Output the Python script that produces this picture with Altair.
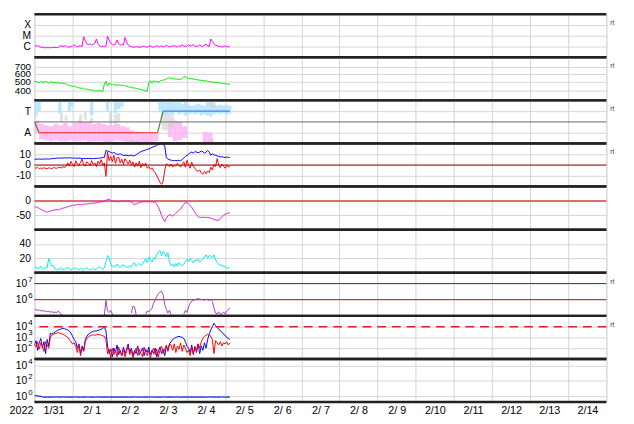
import altair as alt
import pandas as pd

FONT = "Liberation Sans"
W = 584
H = 44
GRID = "#d4d4d4"

day_labels = ["1/31", "2/ 1", "2/ 2", "2/ 3", "2/ 4", "2/ 5", "2/ 6", "2/ 7",
              "2/ 8", "2/ 9", "2/10", "2/11", "2/12", "2/13", "2/14"]

# Panel 1: X-ray flux, in units of C1 (1e-6 W/m2), hourly from 1/31 00h
xray_c = [1.2, 1.1, 1.3, 1.0, 0.9,
          0.8, 0.8, 0.75, 0.8, 0.8, 0.75, 0.8, 0.8, 0.85, 0.8, 0.8,
          1.1, 1.2, 0.9, 1.2, 1.1, 0.9, 0.9,
          1.0, 1.1, 1.5, 1.1, 1.0, 1.1, 1.2, 1.0,
          8.0, 3.5, 1.8, 1.5, 1.8, 1.4, 1.6, 2.0, 5.0, 1.8,
          1.2, 1.0, 1.1, 1.0, 1.1, 9.0, 4.0, 2.0, 1.5, 1.4,
          1.6, 4.0, 1.8, 1.3, 1.5, 1.4, 7.0, 2.5, 1.4, 1.1,
          1.0, 0.9, 0.85, 1.0, 0.9, 0.85, 0.9, 1.0, 1.1, 0.9, 0.9, 1.0, 1.2, 0.9, 0.9,
          1.0, 1.3, 0.9, 1.0, 1.2, 0.9, 1.0, 1.4, 1.0, 0.9, 1.1, 1.0, 1.3, 1.0, 0.9,
          1.2, 1.0, 1.5, 1.0, 1.1, 1.0, 1.5, 1.1, 1.2, 1.6, 1.0, 1.1, 1.0, 1.5, 1.1, 1.0, 1.3, 1.7, 1.1, 1.0,
          5.0, 3.0, 1.8, 1.3, 1.2,
          1.0, 1.1, 0.9, 1.0, 1.2, 0.9, 1.0, 0.9]

# Panel 2: solar wind speed km/s, hourly
speed = [495, 500, 490, 485, 498, 492, 488, 500, 495, 480, 490, 495, 485, 488, 480, 490, 475, 485, 470, 478, 470,
         460, 455, 450, 445, 448, 440,
         435, 430, 425, 428, 420, 415, 420, 410, 412, 405, 408, 400, 398, 402,
         405, 400, 395, 470,
         500, 450, 480,
         470, 465, 460, 462, 455, 458, 460, 452, 455, 450, 448,
         440, 438, 435, 430, 428, 425, 420, 418, 415, 410, 405, 400, 398,
         490, 505, 480, 510, 495, 500, 485, 505,
         510, 515, 520, 530, 540,
         545, 540, 535, 530,
         525, 530, 520, 525, 535,
         555, 560, 545, 535,
         530, 535, 528, 522, 520, 518,
         515, 512, 510, 505, 508, 500, 498, 495, 492, 490,
         488, 485, 480, 482, 478, 475, 470, 472, 468, 465]

# Panel 3: IMF sector (A=1, T=3); spread of phi readings per time bin
pink_h = [0, 3, 6, 9, 12, 15, 18, 21, 24, 27, 30, 33, 36, 39, 42, 45, 48, 51, 54, 57, 60, 63, 66, 69, 72, 75,
          84, 87, 90, 93, 106, 109]
pink_lo = [1.0, 0.4, 0.3, 0.2, 0.3, 0.2, 0.2, 0.3, 0.2, 0.2, 0.3, 0.1, 0.2, 0.2, 0.2, 0.1, 0.2, 0.3, 0.2, 0.1,
           0.1, 0.1, 0.0, 0.1, 0.1, 0.2, 0.6, 0.2, 0.3, 0.5, 0.1, 0.1]
pink_hi = [2.1, 1.8, 1.7, 1.6, 1.8, 1.7, 1.9, 1.6, 1.9, 2.1, 2.0, 2.0, 1.8, 1.9, 1.8, 1.7, 1.7, 1.8, 1.6, 1.5,
           1.2, 1.1, 1.0, 0.9, 1.0, 0.9, 1.9, 2.1, 2.0, 1.6, 1.1, 1.0]
blue_h = [0, 2, 15, 21, 23, 35, 45, 50, 52, 54, 78, 80, 82, 84, 86, 88, 90, 92, 94, 96, 98, 100, 102, 104, 106,
          108, 110, 112, 114, 116, 118, 120, 122]
blue_lo = [2.5, 3.0, 2.8, 3.0, 3.4, 2.6, 3.0, 2.8, 3.2, 3.4, 3.0, 2.7, 2.6, 2.8, 2.6, 2.9, 2.7, 2.8, 2.6, 2.7,
           2.8, 2.7, 2.8, 2.6, 2.7, 2.6, 2.5, 2.7, 2.8, 2.7, 2.8, 2.7, 2.8]
blue_hi = [3.9, 3.9, 3.9, 3.9, 3.9, 3.9, 3.9, 3.9, 3.8, 3.9, 3.9, 3.9, 3.8, 3.9, 3.9, 3.8, 3.9, 3.7, 3.9, 3.6,
           3.5, 3.6, 3.7, 3.6, 3.5, 3.9, 3.8, 3.6, 3.5, 3.6, 3.5, 3.6, 3.5]
grey_h = [16, 19, 28, 31, 35, 44, 47, 50, 52, 60, 62, 64, 80, 82, 84, 86, 110, 112, 111]
grey_lo = [2.0, 2.1, 1.8, 2.2, 1.9, 0.0, 1.5, 1.6, 2.0, 0.0, 0.0, 0.0, 1.3, 1.2, 1.5, 1.4, 3.4, 3.3, 0.0]
grey_hi = [2.8, 2.6, 2.7, 2.9, 2.4, 0.3, 2.9, 2.7, 2.8, 0.4, 0.3, 0.4, 2.9, 2.6, 2.8, 2.5, 3.9, 3.9, 0.5]
sector_h = [0, 3, 3, 77.5, 77.5, 81, 81, 123]
sector_v = [2.0, 1.0, 1.0, 1.0, 1.0, 3.0, 3.0, 3.0]
sector_seg = ["g1", "g1", "away", "away", "g2", "g2", "toward", "toward"]

# Panel 4: Bt and Bz (nT), hourly
bt = [5.5, 5.4, 5.6, 5.5, 5.3, 5.6, 5.5, 5.7, 5.6, 5.5, 5.8, 5.9, 6.0, 6.2, 6.4, 6.5, 6.3, 6.6, 6.5, 6.7, 6.6,
      6.5, 6.8, 6.6, 6.4, 6.6, 6.3, 6.2, 6.5, 6.3, 6.0, 6.2, 5.9, 6.1, 6.0, 6.2, 5.8, 6.1, 6.0, 6.3, 6.2, 6.4, 6.8,
      7.0, 7.2,
      13.5, 13.0, 12.5,
      11.8, 11.0, 12.0, 10.5, 10.0, 9.8, 10.5, 9.5, 9.0, 8.8, 9.2,
      8.6, 8.8, 9.0, 8.5, 8.7, 9.5,
      10.5, 11.5, 12.5, 13.0, 13.5, 14.0, 14.5, 15.0, 15.5, 16.5, 17.0, 17.5, 18.5, 19.0,
      19.5, 20.0, 19.0,
      18.0, 7.0, 5.5,
      5.0, 4.5, 4.2, 4.0, 4.3, 4.1, 4.5, 4.0,
      5.0, 6.5, 8.0, 9.0,
      10.0, 11.5, 12.0, 11.0, 12.5, 12.0, 11.5, 12.0, 13.0, 12.5, 11.0, 12.0, 13.5, 12.0,
      9.0, 10.5, 9.5, 9.0, 8.5, 8.0, 7.5, 7.8, 7.2, 7.0, 7.5, 7.0, 7.2]
bz = [-2.5, -3.0, -2.0, -3.5, -2.8, -3.2, -2.5, -3.0, -3.3, -2.6, -2.9, -3.4, -2.2, -2.8, -3.0, -2.4, -2.0, -2.6,
      -1.5, -2.2, -1.0,
      2.0, -1.0, 3.5, 0.5, -1.5, 4.0, 1.0, -0.5, 2.5, 5.5, 0.0, -1.0, 3.0, 1.5, -0.8, 4.0, 0.5, 2.0, -1.5, 3.5,
      1.0, 5.0, 0.0, 2.0,
      -10.5, 12.0, 4.0,
      8.0, 3.0, 9.0, 1.5, 6.5, 7.5, 2.0, 5.5, 0.5, 6.0, 3.5, 1.0, 4.5, 0.0, 3.0, -2.0, 2.0,
      -1.0, 3.5, -2.5, 1.5, -1.0, 2.0, -3.0, -1.5, -4.0, -2.5, -5.5,
      -7.0, -10.0, -13.0, -16.0, -18.0,
      -15.0, -5.0, 1.0,
      0.5, -1.5, 1.0, -2.0, 0.0, -1.0, 1.5, -0.5, -2.0, 0.5,
      3.0, -2.0, 4.5, 0.0, -3.0, 2.5, -1.0,
      -3.0, -5.0, -6.0, -4.5, -7.5, -8.5, -6.0, -8.0, -5.5, -7.0,
      -2.0, -4.5, 0.5, -1.5, 6.0, -0.5, -2.5, 1.0, -1.0, -3.0, 0.0, -2.0, -1.0]

# Panel 5: Dst (nT), hourly
dst = [-20, -21, -23, -26, -29, -32, -35, -37, -39, -37, -35, -34,
       -33, -31, -30, -31, -29, -27, -25, -24, -22, -20, -18, -17,
       -15, -16, -14, -12, -13, -12, -11, -12, -10, -11, -10, -9,
       -8, -8, -7, -6, -5, -4, -3, -2, 0, 2, 5, 6,
       2, 0, -1, -2, -2, -3, -1, 0, -1, -2, -1, 0,
       -1, -3, -9, -13, -10, -8, -6, -4, -3, -3, -2, -3,
       -2, -3, -3, -4, -5, -12, -22, -35, -50, -62, -72, -60,
       -52, -47, -50, -53, -48, -43, -38, -33, -28, -20, -12, -5,
       -4, -10, -16, -22, -30, -40, -48, -54, -57, -58, -56, -57,
       -58, -57, -58, -60, -62, -64, -66, -68, -67, -60, -55, -50,
       -47, -44, -42, -41]

# Panel 6: cyan series, hourly
cyan = [6, 8, 5, 7, 9, 6, 5, 8, 7,
        20, 14, 9, 10,
        5, 4, 6, 5, 7, 4, 5, 6, 8, 5, 4, 6, 5, 7, 5, 4, 6, 5, 4, 6, 7, 5, 4, 5, 6, 4, 5, 7, 8, 6, 5, 7,
        15, 24, 22, 12, 8,
        10, 8, 12, 9, 7, 10, 11, 8, 9, 7, 10, 8,
        12, 14, 9, 11, 13, 10, 12,
        16, 20, 14, 22, 18, 15, 21, 19,
        26, 29, 31, 24, 30, 27, 22, 28,
        15, 10, 12, 8, 13, 9, 14, 11, 10, 12,
        16, 19, 15, 20, 17, 14, 18, 16, 19, 15, 17, 20,
        22, 25, 20, 24, 23, 21, 25,
        18, 14, 12, 10, 11, 8, 9, 7, 6, 8]

# Panel 7: electron flux, segments with gaps
elec_h = list(range(0, 19)) + list(range(44, 51)) + list(range(61, 65)) + list(range(70, 87)) + list(range(94, 124))
elec_seg = [1] * 19 + [2] * 7 + [3] * 4 + [4] * 17 + [5] * 30
elec_v = [2.5e5, 2.4e5, 2.2e5, 2.3e5, 2.1e5, 2.0e5, 2.1e5, 1.9e5, 1.8e5, 1.9e5, 1.7e5, 1.8e5, 1.6e5, 1.7e5,
          1.6e5, 2.0e5, 1.5e5, 1.2e5, 1.1e5,
          1.1e5, 9.0e5, 2.0e5, 1.6e5, 2.2e5, 1.3e5, 1.1e5,
          1.5e5, 4.0e5, 3.5e5, 1.2e5,
          1.3e5, 2.0e5, 1.8e5, 2.2e5, 3.0e5, 6.0e5, 1.0e6, 1.6e6, 2.4e6, 3.0e6, 3.2e6, 2.0e6, 5.0e5, 2.5e5,
          1.5e5, 2.2e5, 1.2e5,
          1.3e5, 2.2e5, 1.6e5, 3.5e5, 6.0e5, 8.0e5, 9.0e5, 1.0e6, 1.1e6, 1.15e6, 1.1e6, 1.05e6, 1.0e6, 9.0e5,
          1.1e6, 1.0e6, 9.0e5, 1.05e6, 8.0e5, 3.0e5, 1.5e5, 1.3e5, 1.8e5, 1.2e5, 1.4e5, 1.7e5, 1.3e5, 2.0e5,
          2.5e5, 3.0e5]

# Panel 8: proton flux, log10 values, hourly
prot_blue = [2.3, 2.7, 1.8, 2.5, 2.9, 2.0, 2.6, 1.5, 2.8, 2.2,
             3.4,
             3.3, 3.4, 3.5, 3.6, 3.7, 3.75, 3.8, 3.85, 3.8, 3.75,
             3.7, 3.6, 3.4, 3.1, 2.8, 2.6,
             2.0, 2.4, 1.5, 2.2, 1.8,
             2.8, 3.1, 3.3, 3.4, 3.5, 3.55, 3.6, 3.6, 3.65, 3.7, 3.75, 3.85, 3.95,
             3.6,
             2.2, 1.5, 1.9, 1.2, 2.0, 1.6, 2.3, 1.4, 1.8, 1.3, 2.1, 1.5, 1.9, 2.4, 1.6, 2.0, 1.3, 1.8, 1.5, 2.2,
             1.4, 1.7, 2.0, 1.3, 1.9, 1.6, 2.1, 1.4, 1.8, 1.5, 2.0, 1.2, 1.7, 2.1, 1.5, 1.9, 1.3, 2.2, 1.8, 2.4,
             2.6, 2.8, 2.9, 3.0, 3.05, 3.1, 3.05, 3.0, 2.9, 2.6, 2.2,
             2.0, 1.6, 2.3, 1.4, 2.1, 1.7, 2.4, 1.5, 2.2, 1.8, 2.5, 2.0,
             2.8, 3.3, 3.7, 4.0, 4.3, 4.1,
             3.9, 3.8, 3.6, 3.5, 3.3, 3.2, 3.0, 2.9, 2.8]
prot_red = [2.4, 2.1, 2.6, 1.9, 2.5, 2.2, 1.7, 2.6, 2.3, 2.0,
            3.0, 3.2, 3.3, 3.35, 3.4, 3.45, 3.4, 3.35, 3.3, 3.2, 3.1,
            3.0, 2.8, 2.6, 2.4, 2.5, 2.2,
            1.6, 2.3, 1.3, 2.0, 1.7,
            2.6, 2.9, 3.05, 3.15, 3.2, 3.25, 3.2, 3.25, 3.3, 3.25, 3.2, 3.15, 3.1,
            2.8,
            1.5, 1.9, 1.1, 2.0, 1.4, 1.8, 1.2, 2.1, 1.6, 1.3, 1.9, 1.2, 1.7, 2.2, 1.4, 1.8, 1.1, 1.6, 2.0, 1.3,
            1.9, 1.5, 1.2, 2.1, 1.6, 1.3, 1.8, 1.1, 1.7, 2.0, 1.4, 1.9, 1.2, 1.8, 2.2, 1.5, 1.9, 2.3, 1.7, 2.4,
            2.3, 1.8, 2.4, 1.6, 2.2, 1.9, 2.5, 1.7, 2.3, 2.0, 1.6,
            1.8, 1.3, 2.1, 1.5, 2.2, 1.6, 2.4, 2.0, 2.6, 2.9, 3.1, 3.2,
            3.3, 3.2, 3.1, 2.8, 1.5, 2.7,
            2.5, 2.3, 2.6, 2.2, 2.5, 2.4, 2.6, 2.3, 2.5]

# Panel 9: blue series, hourly
p9 = [1.3, 1.25, 1.2, 1.1, 1.0, 0.9, 0.85, 0.9, 0.8, 0.88,
      0.85, 0.9, 0.82, 0.87, 0.9, 0.84, 0.88, 0.8, 0.86, 0.9,
      0.83, 0.87, 0.85, 0.9, 0.8, 0.86, 0.88, 0.82, 0.9, 0.85,
      0.8, 0.87, 0.84, 0.9, 0.86, 0.82, 0.88, 0.85, 0.8, 0.87,
      0.9, 0.84, 0.86, 0.82, 0.88, 0.85, 0.9, 0.8, 0.86, 0.84,
      0.88, 0.82, 0.87, 0.85, 0.9, 0.83, 0.86, 0.8, 0.88, 0.85,
      0.84, 0.87, 0.82, 0.9, 0.86, 0.83, 0.88, 0.85, 0.8, 0.87,
      0.85, 0.9, 0.82, 0.86, 0.88, 0.84, 0.8, 0.87, 0.85, 0.9,
      0.83, 0.86, 0.88, 0.82, 0.85, 0.9, 0.84, 0.87, 0.8, 0.86,
      0.88, 0.83, 0.85, 0.9, 0.82, 0.87, 0.84, 0.86, 0.8, 0.88,
      0.85, 0.9, 0.83, 0.86, 0.82, 0.88, 0.84, 0.87, 0.85, 0.8,
      0.86, 0.9, 0.83, 0.87, 0.85, 0.82, 0.88, 0.84, 0.86, 0.9,
      0.85, 0.83, 0.87, 0.84]

# exponent tick labels of the log panels
exp7_v = [1e6, 1e7]
exp7_t = ["6", "7"]
exp8_v = [1e2, 1e3, 1e4]
exp8_t = ["2", "3", "4"]
exp9_v = [1, 1e2, 1e4]
exp9_t = ["0", "2", "4"]

one = pd.DataFrame({"k": [0]})
TICKS = list(range(0, 361, 24))


def xaxis(bottom):
    if bottom:
        arr = "[" + ",".join("'%s'" % s for s in day_labels) + "]"
        return alt.Axis(values=TICKS, grid=True, gridColor=GRID, ticks=False, domain=False, labels=True,
                        labelExpr=arr + "[datum.value/24] || ''", labelOffset=19.5, labelPadding=3,
                        labelFont=FONT, labelFontSize=11, labelColor="black", labelOverlap=False,
                        labelFlush=False, labelBound=False, title="2022", titleX=-26, titleY=3,
                        titleAlign="left", titleBaseline="top", titleFont=FONT, titleFontSize=11,
                        titleFontWeight="normal", titleColor="black")
    return alt.Axis(values=TICKS, grid=True, gridColor=GRID, ticks=False, domain=False, labels=False, title=None)


def X(bottom=False, field="h"):
    return alt.X(f"{field}:Q", scale=alt.Scale(domain=[0, 360], nice=False, zero=False), axis=xaxis(bottom))


def yaxis(values, expr, pad=4, size=10.5):
    return alt.Axis(values=values, grid=True, gridColor=GRID, ticks=False, domain=False, title=None,
                    labelFont=FONT, labelFontSize=size, labelColor="black", labelPadding=pad,
                    labelExpr=expr, labelOverlap=False, labelBound=False)


def make_y(dom, typ, ax):
    def Y(field):
        return alt.Y(f"{field}:Q", scale=alt.Scale(domain=dom, type=typ, nice=False, zero=False), axis=ax)
    return Y


def frame(rt):
    lay = [
        alt.Chart(one).mark_rule(color="#222", strokeWidth=2.5).encode(
            x=alt.value(0), x2=alt.value(W), y=alt.value(0)),
        alt.Chart(one).mark_rule(color="#222", strokeWidth=2.5).encode(
            x=alt.value(0), x2=alt.value(W), y=alt.value(H)),
    ]
    if rt:
        lay.append(alt.Chart(one).mark_text(text="rt", fontSize=7, color="#444", align="left", font=FONT).encode(
            x=alt.value(W + 4), y=alt.value(9)))
    return lay


def exps(Y, vals, txt):
    df = pd.DataFrame({"v": vals, "t": txt})
    return alt.Chart(df).mark_text(font=FONT, fontSize=8, color="black", align="right", dy=-4).encode(
        x=alt.value(-2), y=Y("v"), text="t:N")


def hourly(vals):
    return pd.DataFrame({"h": list(range(len(vals))), "v": vals})


# ---- Panel 1
d1 = pd.DataFrame({"h": list(range(len(xray_c))), "v": [c * 1e-6 for c in xray_c]})
Y1 = make_y([1e-7, 1e-3], "log", yaxis([1e-6, 1e-5, 1e-4],
                                       "datum.value < 3e-6 ? 'C' : datum.value < 3e-5 ? 'M' : 'X'"))
p1 = alt.layer(
    alt.Chart(d1).mark_line(color="#ff00ff", strokeWidth=1, clip=True).encode(x=X(), y=Y1("v")),
    *frame(True)
).properties(width=W, height=H)

# ---- Panel 2
Y2 = make_y([320, 880], "log", yaxis([400, 500, 600, 700], "'' + datum.value", size=10))
p2 = alt.layer(
    alt.Chart(hourly(speed)).mark_line(color="#00ee00", strokeWidth=1, clip=True).encode(x=X(), y=Y2("v")),
    *frame(True)
).properties(width=W, height=H)

# ---- Panel 3
Y3 = make_y([0, 4], "linear", yaxis([1, 3], "datum.value > 2 ? 'T' : 'A'"))
pink = pd.DataFrame({"h": pink_h, "h2": [h + 3 for h in pink_h], "lo": pink_lo, "hi": pink_hi})
blue = pd.DataFrame({"h": blue_h, "h2": [h + 2 for h in blue_h], "lo": blue_lo, "hi": blue_hi})
grey = pd.DataFrame({"h": grey_h, "h2": [h + 2 for h in grey_h], "lo": grey_lo, "hi": grey_hi})
sect = pd.DataFrame({"h": sector_h, "v": sector_v, "seg": sector_seg})
mid = pd.DataFrame({"v": [2.0]})


def band(df, color, op):
    return alt.Chart(df).mark_bar(color=color, opacity=op, clip=True).encode(
        x=X(), x2="h2:Q", y=Y3("lo"), y2="hi:Q")


p3 = alt.layer(
    band(pink, "#ffb3f2", 0.85),
    band(blue, "#ace3ff", 0.85),
    band(grey, "#cfcfcf", 0.6),
    alt.Chart(mid).mark_rule(color="#666", strokeWidth=1).encode(y=Y3("v")),
    alt.Chart(sect).mark_line(strokeWidth=1.2, clip=True).encode(
        x=X(), y=Y3("v"),
        color=alt.Color("seg:N", scale=alt.Scale(domain=["g1", "away", "g2", "toward"],
                                                 range=["#3d8a3d", "#ee2222", "#3d8a3d", "#5577ff"]),
                        legend=None)),
    *frame(True)
).properties(width=W, height=H)

# ---- Panel 4
Y4 = make_y([-20, 20], "linear", yaxis([-10, 0, 10], "'' + datum.value"))
zero = pd.DataFrame({"v": [0.0]})
p4 = alt.layer(
    alt.Chart(hourly(bt)).mark_line(color="#0000ff", strokeWidth=1, clip=True).encode(x=X(), y=Y4("v")),
    alt.Chart(hourly(bz)).mark_line(color="#ff0000", strokeWidth=1, clip=True).encode(x=X(), y=Y4("v")),
    alt.Chart(zero).mark_rule(color="#990000", strokeWidth=1).encode(y=Y4("v")),
    *frame(True)
).properties(width=W, height=H)

# ---- Panel 5
Y5 = make_y([-100, 50], "linear", yaxis([-50, 0], "'' + datum.value"))
p5 = alt.layer(
    alt.Chart(zero).mark_rule(color="#d87070", strokeWidth=2).encode(y=Y5("v")),
    alt.Chart(hourly(dst)).mark_line(color="#e020e0", strokeWidth=1, clip=True).encode(x=X(), y=Y5("v")),
    *frame(False)
).properties(width=W, height=H)

# ---- Panel 6
Y6 = make_y([0, 60], "linear", yaxis([20, 40], "'' + datum.value"))
p6 = alt.layer(
    alt.Chart(hourly(cyan)).mark_line(color="#00eeee", strokeWidth=1, clip=True).encode(x=X(), y=Y6("v")),
    *frame(False)
).properties(width=W, height=H)

# ---- Panel 7
Y7 = make_y([1e5, 4.6e7], "log", yaxis(exp7_v, "'10'", pad=8))
elec = pd.DataFrame({"h": elec_h, "v": elec_v, "seg": elec_seg})
lev7 = pd.DataFrame({"v": [1e6, 1e7]})
p7 = alt.layer(
    alt.Chart(lev7).mark_rule(color="#dd0000", strokeWidth=1).encode(y=Y7("v")),
    alt.Chart(elec).mark_line(color="#a23cc8", strokeWidth=1, clip=True).encode(
        x=X(), y=Y7("v"), detail="seg:N"),
    exps(Y7, exp7_v, exp7_t),
    *frame(True)
).properties(width=W, height=H)

# ---- Panel 8
Y8 = make_y([10, 1e5], "log", yaxis(exp8_v, "'10'", pad=8))
pb = pd.DataFrame({"h": list(range(len(prot_blue))), "v": [10 ** v for v in prot_blue]})
pr = pd.DataFrame({"h": list(range(len(prot_red))), "v": [10 ** v for v in prot_red]})
lev8 = pd.DataFrame({"v": [1e4]})
p8 = alt.layer(
    alt.Chart(pb).mark_line(color="#0000ff", strokeWidth=1, clip=True).encode(x=X(), y=Y8("v")),
    alt.Chart(pr).mark_line(color="#ff0000", strokeWidth=1, clip=True).encode(x=X(), y=Y8("v")),
    alt.Chart(lev8).mark_rule(color="#dd2222", strokeWidth=1.5, strokeDash=[9, 6]).encode(y=Y8("v")),
    exps(Y8, exp8_v, exp8_t),
    *frame(True)
).properties(width=W, height=H)

# ---- Panel 9
Y9 = make_y([0.19, 6.9e4], "log", yaxis(exp9_v, "'10'", pad=8))
p9c = alt.layer(
    alt.Chart(hourly(p9)).mark_line(color="#2233dd", strokeWidth=1.3, clip=True).encode(
        x=X(True), y=Y9("v")),
    exps(Y9, exp9_v, exp9_t),
    *frame(False)
).properties(width=W, height=H)

chart = alt.vconcat(p1, p2, p3, p4, p5, p6, p7, p8, p9c, spacing=0, bounds="flush", padding=0).configure_view(
    stroke="#222", strokeWidth=1
).configure(background="white")

chart.save("out.html", embed_options={"renderer": "svg", "actions": False})
